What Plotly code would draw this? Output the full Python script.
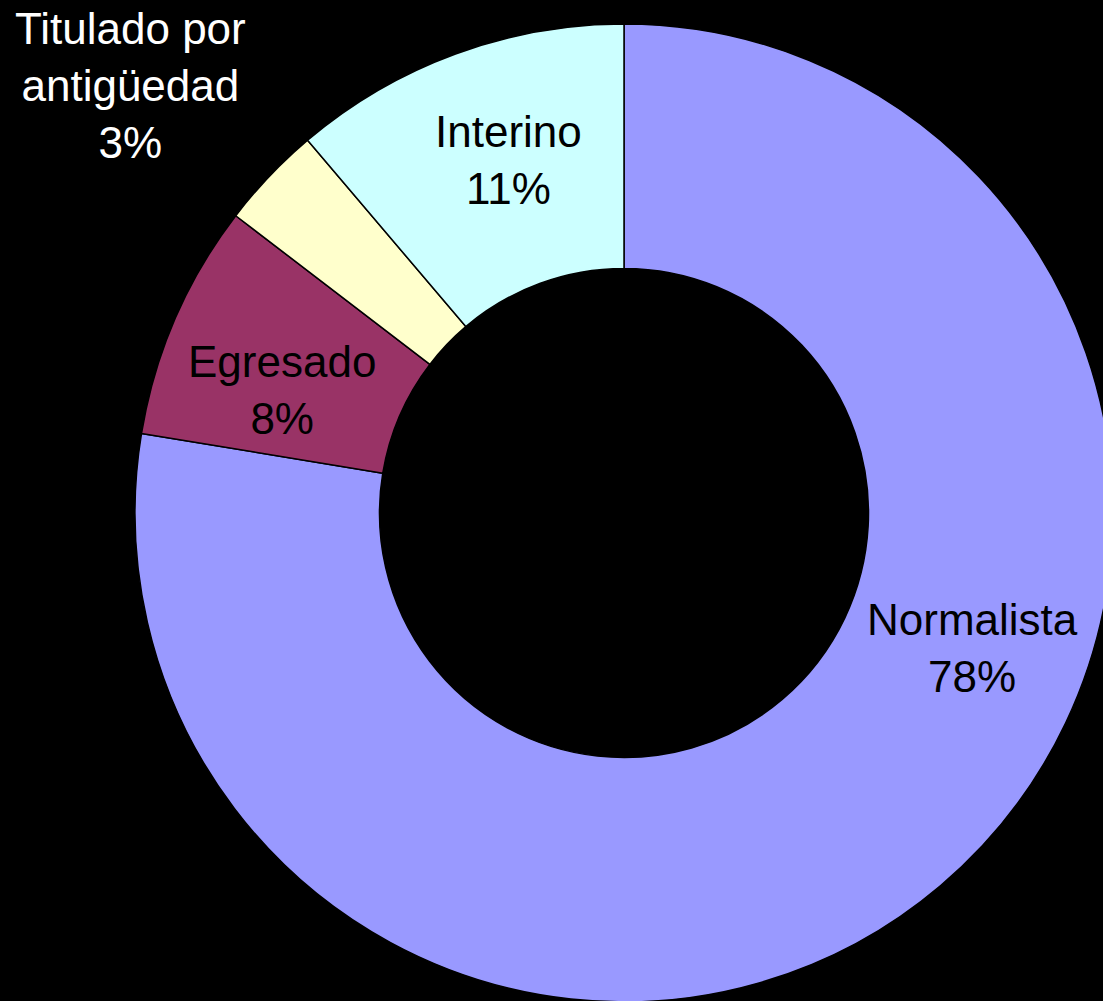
import plotly.graph_objects as go

# Data
categories = ["Normalista", "Egresado", "Titulado por<br>antigüedad", "Interino"]
values = [77.6, 7.8, 3.4, 11.2]
colors = ["#9999FF", "#993366", "#FFFFCC", "#CCFFFF"]
text_colors = ["black", "black", "white", "black"]
# label centre positions in window pixels (x, y)
label_pos = [(972, 648), (282, 390), (130, 86), (508, 160)]

W, H = 1248, 1026
top_px, bot_px = 24, 1002

fig = go.Figure(go.Pie(
    labels=categories,
    values=values,
    hole=0.5,
    sort=False,
    direction="clockwise",
    rotation=0,
    marker=dict(colors=colors, line=dict(color="black", width=1.5)),
    textinfo="none",
    hoverinfo="label+percent",
    showlegend=False,
    domain=dict(x=[0, 1], y=[(H - bot_px) / H, 1 - top_px / H]),
))

for cat, v, col, (px, py) in zip(categories, values, text_colors, label_pos):
    fig.add_annotation(
        x=px / W, y=1 - py / H, xref="paper", yref="paper",
        text=f"{cat}<br>{round(v)}%", showarrow=False,
        xanchor="center", yanchor="middle", align="center",
        font=dict(family="Liberation Sans, Arial, sans-serif", size=44, color=col),
    )

fig.update_layout(
    width=W, height=H,
    margin=dict(l=0, r=0, t=0, b=0),
    paper_bgcolor="black", plot_bgcolor="black",
)

fig.write_html(
    "out.html",
    post_script="document.body.style.margin='0';document.body.style.overflow='hidden';document.documentElement.style.overflow='hidden';document.body.style.background='black';",
)
